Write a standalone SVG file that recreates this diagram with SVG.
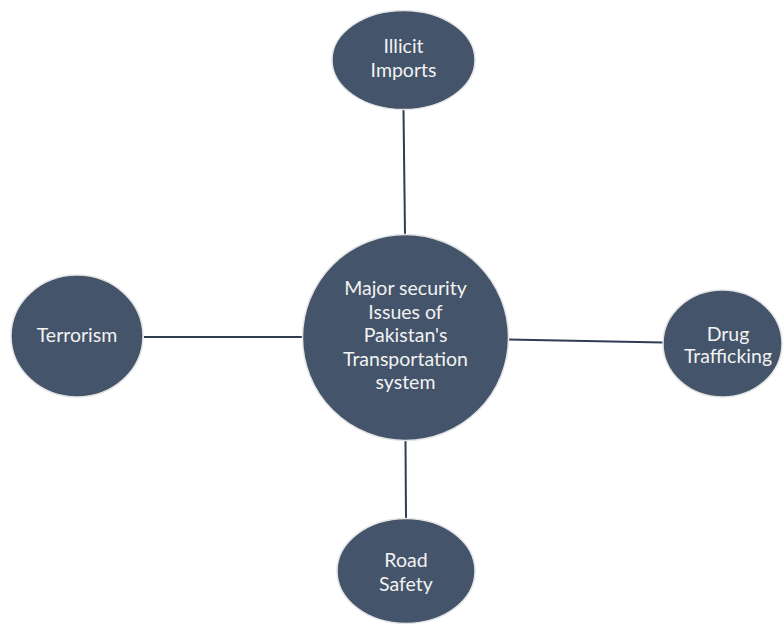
<svg xmlns="http://www.w3.org/2000/svg" width="783" height="624" viewBox="0 0 783 624">
<style>
.node{fill:#44546A;stroke:#E4E4E4;stroke-width:1.5}
.lbl{fill:#F2F2F2;font-family:Lato,"Open Sans","Liberation Sans",sans-serif;font-size:19.5px;text-anchor:middle}
.edge{stroke:#2E3D52;stroke-width:2;fill:none}
</style>
<rect width="783" height="624" fill="#FFFFFF"/>
<g id="connectors">
<line class="edge" x1="403.5" y1="110" x2="405" y2="234"/>
<line class="edge" x1="144" y1="337" x2="303" y2="337"/>
<line class="edge" x1="508" y1="339.5" x2="663" y2="342.5"/>
<line class="edge" x1="405.5" y1="441" x2="406" y2="518"/>
</g>
<g id="center">
<circle class="node" cx="405.5" cy="337.5" r="103"/>
<text class="lbl"><tspan x="405.5" y="295">Major security</tspan><tspan x="405.5" y="319">Issues of</tspan><tspan x="405.5" y="342">Pakistan's</tspan><tspan x="405.5" y="366">Transportation</tspan><tspan x="405.5" y="389">system</tspan></text>
</g>
<g id="illicit-imports">
<ellipse class="node" cx="403.5" cy="60" rx="71.5" ry="49.5"/>
<text class="lbl"><tspan x="403.5" y="53">Illicit</tspan><tspan x="403.5" y="77">Imports</tspan></text>
</g>
<g id="terrorism">
<ellipse class="node" cx="77" cy="336" rx="66" ry="61"/>
<text class="lbl" x="77" y="342">Terrorism</text>
</g>
<g id="drug-trafficking">
<ellipse class="node" cx="722.5" cy="343.5" rx="59.5" ry="53.5"/>
<text class="lbl"><tspan x="728" y="341">Drug</tspan><tspan x="728" y="363">Trafficking</tspan></text>
</g>
<g id="road-safety">
<ellipse class="node" cx="406" cy="571" rx="69" ry="52.5"/>
<text class="lbl"><tspan x="406" y="567">Road</tspan><tspan x="406" y="591">Safety</tspan></text>
</g>
</svg>
